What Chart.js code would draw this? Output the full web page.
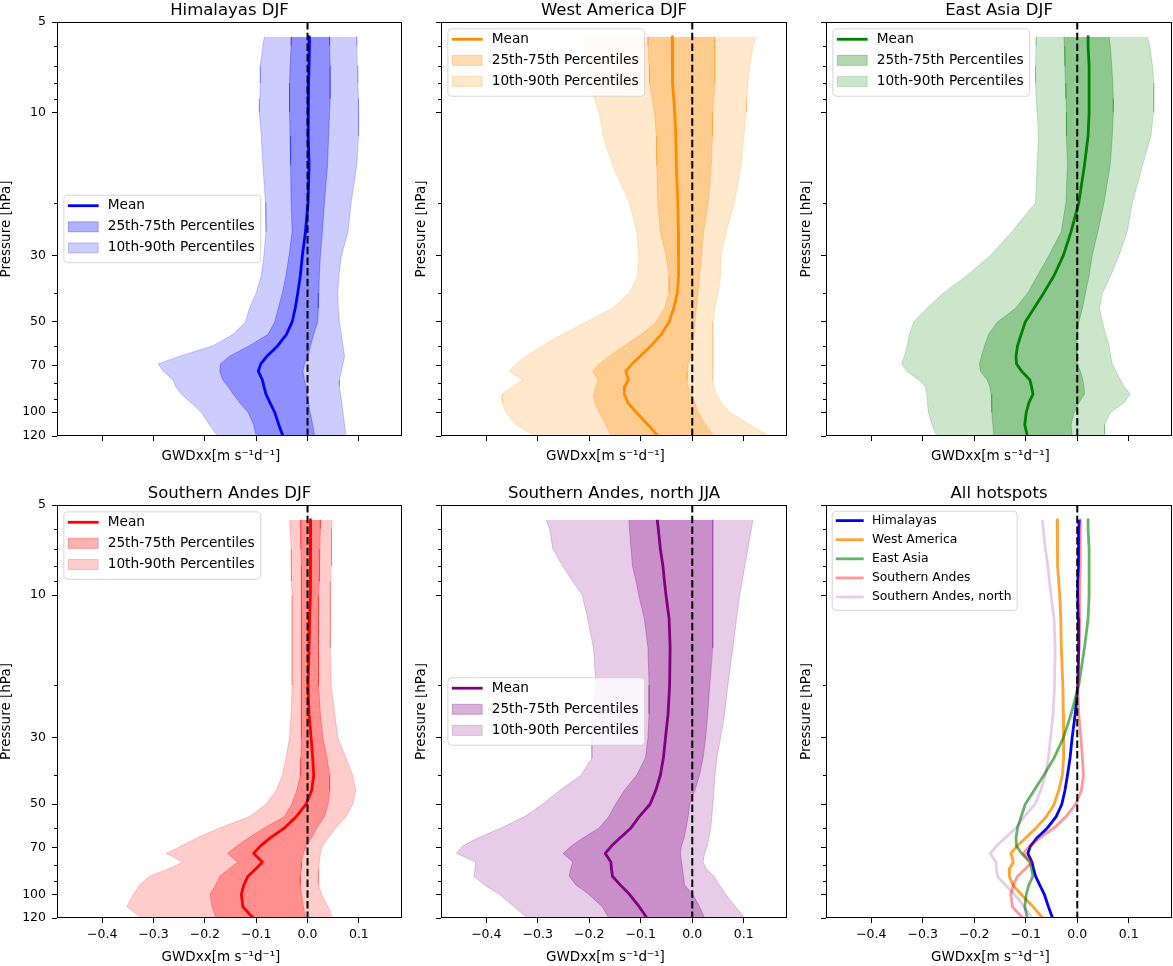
<!DOCTYPE html>
<html>
<head>
<meta charset="utf-8">
<script src="https://cdn.jsdelivr.net/npm/chart.js@4.4.1/dist/chart.umd.min.js"></script>
<style>
  body { margin: 0; background: #fff; }
  #fig { position: relative; width: 1173px; height: 966px; overflow: hidden; }
  canvas { position: absolute; }
</style>
</head>
<body>
<div id="fig">
  <canvas id="c1"></canvas>
  <canvas id="c2"></canvas>
  <canvas id="c3"></canvas>
  <canvas id="c4"></canvas>
  <canvas id="c5"></canvas>
  <canvas id="c6"></canvas>
</div>
<script>
// pressure levels [hPa], shared by every profile
const levels = [5.6, 6, 7, 8, 9, 10, 12, 15, 20, 25, 30, 35, 40, 45, 50, 55, 60, 65, 69, 73, 78, 82, 87, 93, 100, 110, 120];

// Himalayas DJF
const himMean = [0.004, 0.003, 0.003, 0.002, 0.001, 0.001, 0.002, 0.003, 0.001, -0.004, -0.010, -0.014, -0.019, -0.024, -0.030, -0.041, -0.058, -0.079, -0.091, -0.096, -0.088, -0.085, -0.081, -0.073, -0.064, -0.056, -0.048];
const himP25 = [-0.031, -0.032, -0.034, -0.035, -0.035, -0.035, -0.034, -0.033, -0.032, -0.030, -0.036, -0.042, -0.049, -0.057, -0.064, -0.077, -0.113, -0.152, -0.170, -0.171, -0.165, -0.155, -0.145, -0.132, -0.116, -0.105, -0.100];
const himP75 = [0.043, 0.043, 0.044, 0.044, 0.044, 0.043, 0.041, 0.039, 0.033, 0.029, 0.025, 0.023, 0.022, 0.021, 0.020, 0.012, 0.006, 0.001, -0.006, -0.009, -0.006, -0.003, -0.001, 0.002, 0.005, 0.010, 0.014];
const himP10 = [-0.084, -0.087, -0.092, -0.092, -0.093, -0.094, -0.090, -0.087, -0.082, -0.081, -0.085, -0.090, -0.100, -0.113, -0.121, -0.145, -0.184, -0.249, -0.291, -0.281, -0.262, -0.257, -0.246, -0.227, -0.207, -0.191, -0.175];
const himP90 = [0.095, 0.096, 0.097, 0.098, 0.099, 0.100, 0.099, 0.096, 0.085, 0.079, 0.066, 0.061, 0.059, 0.060, 0.062, 0.066, 0.069, 0.072, 0.069, 0.066, 0.062, 0.062, 0.064, 0.067, 0.069, 0.072, 0.075];

// West America DJF
const waMean = [-0.039, -0.039, -0.038, -0.038, -0.036, -0.034, -0.032, -0.031, -0.028, -0.027, -0.026, -0.027, -0.029, -0.036, -0.045, -0.060, -0.080, -0.101, -0.117, -0.129, -0.124, -0.131, -0.132, -0.125, -0.109, -0.086, -0.067];
const waP25 = [-0.086, -0.086, -0.084, -0.083, -0.078, -0.073, -0.070, -0.069, -0.067, -0.062, -0.051, -0.045, -0.045, -0.054, -0.070, -0.099, -0.132, -0.161, -0.181, -0.194, -0.183, -0.187, -0.192, -0.189, -0.181, -0.168, -0.158];
const waP75 = [0.044, 0.044, 0.044, 0.043, 0.042, 0.040, 0.039, 0.037, 0.031, 0.022, 0.018, 0.014, 0.011, 0.008, 0.005, 0.003, 0.001, -0.002, -0.008, -0.010, -0.010, -0.008, -0.002, 0.005, 0.011, 0.026, 0.042];
const waP10 = [-0.211, -0.209, -0.206, -0.200, -0.190, -0.181, -0.173, -0.155, -0.122, -0.108, -0.104, -0.106, -0.122, -0.155, -0.206, -0.252, -0.291, -0.323, -0.343, -0.356, -0.330, -0.349, -0.369, -0.369, -0.362, -0.343, -0.304];
const waP90 = [0.125, 0.118, 0.112, 0.108, 0.106, 0.105, 0.100, 0.095, 0.082, 0.066, 0.056, 0.055, 0.050, 0.044, 0.040, 0.040, 0.040, 0.040, 0.039, 0.040, 0.040, 0.042, 0.047, 0.056, 0.073, 0.112, 0.149];

// East Asia DJF
const eaMean = [0.021, 0.021, 0.023, 0.023, 0.023, 0.023, 0.021, 0.014, 0.003, -0.012, -0.027, -0.045, -0.065, -0.084, -0.101, -0.109, -0.116, -0.119, -0.118, -0.108, -0.092, -0.089, -0.086, -0.094, -0.099, -0.102, -0.097];
const eaP25 = [-0.026, -0.025, -0.024, -0.023, -0.022, -0.021, -0.021, -0.019, -0.022, -0.031, -0.055, -0.077, -0.096, -0.120, -0.155, -0.172, -0.180, -0.186, -0.190, -0.188, -0.175, -0.170, -0.167, -0.166, -0.166, -0.164, -0.162];
const eaP75 = [0.062, 0.064, 0.067, 0.069, 0.070, 0.070, 0.068, 0.064, 0.052, 0.040, 0.029, 0.023, 0.016, 0.010, 0.003, 0.000, -0.001, -0.001, 0.000, 0.006, 0.011, 0.013, 0.014, 0.003, -0.006, -0.012, -0.010];
const eaP10 = [-0.079, -0.080, -0.081, -0.081, -0.080, -0.078, -0.075, -0.078, -0.081, -0.127, -0.169, -0.214, -0.260, -0.292, -0.318, -0.326, -0.330, -0.336, -0.341, -0.331, -0.308, -0.295, -0.292, -0.291, -0.289, -0.282, -0.273];
const eaP90 = [0.136, 0.141, 0.146, 0.149, 0.149, 0.148, 0.143, 0.127, 0.107, 0.097, 0.081, 0.065, 0.049, 0.043, 0.049, 0.055, 0.062, 0.065, 0.068, 0.075, 0.084, 0.091, 0.103, 0.091, 0.065, 0.053, 0.053];

// Southern Andes DJF
const saMean = [0.006, 0.006, 0.006, 0.006, 0.005, 0.005, 0.004, 0.003, 0.001, 0.003, 0.007, 0.010, 0.012, 0.008, -0.003, -0.022, -0.045, -0.074, -0.092, -0.105, -0.088, -0.100, -0.116, -0.124, -0.129, -0.126, -0.106];
const saP25 = [-0.014, -0.013, -0.013, -0.012, -0.012, -0.012, -0.012, -0.012, -0.012, -0.012, -0.012, -0.013, -0.014, -0.021, -0.031, -0.045, -0.084, -0.116, -0.138, -0.156, -0.136, -0.152, -0.171, -0.179, -0.190, -0.186, -0.178];
const saP75 = [0.025, 0.025, 0.024, 0.023, 0.023, 0.022, 0.021, 0.021, 0.022, 0.025, 0.030, 0.038, 0.043, 0.043, 0.040, 0.033, 0.018, 0.007, -0.003, -0.008, -0.012, -0.012, -0.014, -0.014, -0.012, -0.008, -0.004];
const saP10 = [-0.035, -0.034, -0.032, -0.032, -0.031, -0.030, -0.030, -0.030, -0.030, -0.032, -0.035, -0.042, -0.049, -0.061, -0.081, -0.113, -0.171, -0.217, -0.246, -0.275, -0.243, -0.269, -0.308, -0.327, -0.339, -0.352, -0.324];
const saP90 = [0.048, 0.047, 0.047, 0.046, 0.045, 0.045, 0.044, 0.044, 0.046, 0.053, 0.059, 0.075, 0.088, 0.094, 0.088, 0.075, 0.055, 0.040, 0.029, 0.025, 0.023, 0.022, 0.021, 0.022, 0.027, 0.040, 0.049];

// Southern Andes, north JJA
const sanMean = [-0.068, -0.066, -0.062, -0.057, -0.054, -0.051, -0.045, -0.043, -0.044, -0.047, -0.052, -0.056, -0.062, -0.071, -0.082, -0.103, -0.119, -0.141, -0.157, -0.169, -0.158, -0.157, -0.155, -0.140, -0.122, -0.103, -0.088];
const sanP25 = [-0.123, -0.122, -0.119, -0.116, -0.109, -0.104, -0.093, -0.086, -0.084, -0.084, -0.086, -0.091, -0.108, -0.132, -0.149, -0.162, -0.181, -0.213, -0.235, -0.251, -0.232, -0.236, -0.239, -0.226, -0.201, -0.175, -0.162];
const sanP75 = [0.040, 0.040, 0.040, 0.040, 0.040, 0.040, 0.040, 0.039, 0.034, 0.030, 0.026, 0.021, 0.014, 0.005, -0.005, -0.008, -0.012, -0.016, -0.021, -0.023, -0.021, -0.019, -0.017, -0.015, 0.001, 0.014, 0.024];
const sanP10 = [-0.284, -0.277, -0.271, -0.252, -0.232, -0.214, -0.203, -0.192, -0.187, -0.194, -0.195, -0.195, -0.216, -0.258, -0.291, -0.326, -0.371, -0.418, -0.446, -0.458, -0.421, -0.422, -0.424, -0.404, -0.375, -0.346, -0.320];
const sanP90 = [0.118, 0.115, 0.108, 0.102, 0.097, 0.092, 0.086, 0.079, 0.069, 0.063, 0.055, 0.048, 0.044, 0.042, 0.040, 0.038, 0.036, 0.032, 0.029, 0.024, 0.021, 0.027, 0.042, 0.053, 0.065, 0.084, 0.102];

// axes
const xTicks = [-0.4, -0.3, -0.2, -0.1, 0.0, 0.1];
const yTicks = [5, 10, 30, 50, 70, 100, 120];
const yMinorTicks = [6, 7, 8, 9, 20, 40, 60, 80, 90];
const hotspotNames = ['Himalayas', 'West America', 'East Asia', 'Southern Andes', 'Southern Andes, north'];

const rgb = { blue: [0, 0, 255], darkorange: [255, 140, 0], green: [0, 128, 0], red: [255, 0, 0], purple: [128, 0, 128] };
const rgba = (c, a) => `rgba(${rgb[c].join(',')},${a})`;
const FONT = '"DejaVu Sans", sans-serif';

Chart.defaults.font.family = FONT;
Chart.defaults.color = '#000';

const pts = arr => arr.map((v, i) => ({ x: v, y: levels[i] }));

function zeroLine() {
  return { data: [{ x: 0, y: 5 }, { x: 0, y: 120 }], borderColor: '#000', borderWidth: 2, borderDash: [7.5, 3.2], fill: false };
}

// first dataset is drawn on top in Chart.js
function bandSets(c, mean, p10, p25, p75, p90) {
  return [
    zeroLine(),
    { data: pts(mean), borderColor: rgba(c, 1), borderWidth: 2.8, fill: false },
    { data: pts(p25), borderColor: rgba(c, 0.3), backgroundColor: rgba(c, 0.3), borderWidth: 1, fill: 3 },
    { data: pts(p75), borderColor: rgba(c, 0.3), borderWidth: 1, fill: false },
    { data: pts(p10), borderColor: rgba(c, 0.2), backgroundColor: rgba(c, 0.2), borderWidth: 1, fill: 5 },
    { data: pts(p90), borderColor: rgba(c, 0.2), borderWidth: 1, fill: false }
  ];
}

function bandLegend(c) {
  return [
    { type: 'line', color: rgba(c, 1), label: 'Mean' },
    { type: 'rect', color: rgba(c, 0.3), label: '25th-75th Percentiles' },
    { type: 'rect', color: rgba(c, 0.2), label: '10th-90th Percentiles' }
  ];
}

// frame, minor ticks, title
const axesDecor = {
  id: 'axesDecor',
  afterDatasetsDraw(chart) {
    const { ctx, chartArea: a } = chart;
    ctx.save();
    ctx.strokeStyle = '#000';
    ctx.lineWidth = 1;
    ctx.strokeRect(Math.round(a.left) + 0.5, Math.round(a.top) + 0.5, Math.round(a.right - a.left) - 1, Math.round(a.bottom - a.top) - 1);
    ctx.restore();
  },
  afterDraw(chart, args, o) {
    const { ctx, chartArea: a } = chart;
    const ys = chart.scales.y;
    ctx.save();
    ctx.strokeStyle = '#000';
    ctx.lineWidth = 1;
    ctx.beginPath();
    yMinorTicks.forEach(v => {
      const py = Math.round(ys.getPixelForValue(v)) + 0.5;
      ctx.moveTo(a.left - 3, py);
      ctx.lineTo(a.left, py);
    });
    ctx.stroke();
    ctx.fillStyle = '#000';
    ctx.font = '16.5px ' + FONT;
    ctx.textAlign = 'center';
    ctx.textBaseline = 'alphabetic';
    ctx.fillText(o.title, (a.left + a.right) / 2, a.top - 7.5);
    ctx.restore();
  }
};

// matplotlib-style legend box inside the axes
const boxLegend = {
  id: 'boxLegend',
  afterDraw(chart, args, o) {
    const { ctx, chartArea: a } = chart;
    const fs = o.fontSize;
    ctx.save();
    ctx.font = fs + 'px ' + FONT;
    const rowH = 1.54 * fs;
    const pad = 0.29 * fs, handle = 2.25 * fs, gap = 0.66 * fs;
    const textW = Math.max(...o.items.map(it => ctx.measureText(it.label).width));
    const w = pad + handle + gap + textW + 0.45 * fs;
    const h = o.items.length * rowH + 0.3 * fs;
    const x0 = a.left + 0.5 * fs;
    const y0 = o.loc === 'center left' ? (a.top + a.bottom) / 2 - h / 2 : a.top + 0.5 * fs;
    const r = 0.3 * fs;
    ctx.beginPath();
    ctx.moveTo(x0 + r, y0);
    ctx.arcTo(x0 + w, y0, x0 + w, y0 + h, r);
    ctx.arcTo(x0 + w, y0 + h, x0, y0 + h, r);
    ctx.arcTo(x0, y0 + h, x0, y0, r);
    ctx.arcTo(x0, y0, x0 + w, y0, r);
    ctx.closePath();
    ctx.fillStyle = 'rgba(255,255,255,0.8)';
    ctx.fill();
    ctx.strokeStyle = 'rgba(204,204,204,0.8)';
    ctx.lineWidth = 1;
    ctx.stroke();
    o.items.forEach((it, i) => {
      const cy = y0 + 0.76 * fs + i * rowH;
      const hx = x0 + pad;
      if (it.type === 'line') {
        ctx.beginPath();
        ctx.moveTo(hx, cy);
        ctx.lineTo(hx + handle, cy);
        ctx.strokeStyle = it.color;
        ctx.lineWidth = 2.8;
        ctx.stroke();
      } else {
        const rh = 0.73 * fs;
        ctx.fillStyle = it.color;
        ctx.fillRect(hx + 0.5, cy - rh / 2, handle - 1, rh);
        ctx.strokeStyle = it.color;
        ctx.lineWidth = 1;
        ctx.strokeRect(hx + 0.5, cy - rh / 2, handle - 1, rh);
      }
      ctx.fillStyle = '#000';
      ctx.textAlign = 'left';
      ctx.textBaseline = 'middle';
      ctx.fillText(it.label, hx + handle + gap, cy);
    });
    ctx.restore();
  }
};

const fmtX = v => (v < 0 ? '\u2212' : '') + Math.abs(v).toFixed(1);

function makePanel(p) {
  const cv = document.getElementById(p.id);
  cv.width = p.width;
  cv.height = p.height;
  cv.style.left = p.left + 'px';
  cv.style.top = p.top + 'px';
  cv.style.width = p.width + 'px';
  cv.style.height = p.height + 'px';
  new Chart(cv, {
    type: 'line',
    data: { datasets: p.datasets },
    plugins: [axesDecor, boxLegend],
    options: {
      responsive: false,
      animation: false,
      indexAxis: 'y',
      layout: { padding: { top: p.padTop, left: 0, right: 0, bottom: 0 } },
      elements: {
        point: { radius: 0, hoverRadius: 0 },
        line: { tension: 0, borderJoinStyle: 'round', borderCapStyle: 'butt' }
      },
      events: [],
      plugins: {
        legend: { display: false },
        tooltip: { enabled: false },
        axesDecor: { title: p.title },
        boxLegend: { loc: p.loc, fontSize: p.legendSize, items: p.legend }
      },
      scales: {
        x: {
          type: 'linear',
          position: 'bottom',
          min: -0.488,
          max: 0.184,
          afterBuildTicks: s => { s.ticks = xTicks.map(v => ({ value: v })); },
          afterFit: s => { s.height = p.xh; s.paddingLeft = 0; s.paddingRight = 0; },
          grid: { display: true, drawOnChartArea: false, drawTicks: true, tickLength: 5, color: '#000', lineWidth: 1 },
          border: { display: false },
          ticks: { font: { size: 12.5 }, padding: 4, maxRotation: 0, autoSkip: false, callback: v => p.xLabels ? fmtX(v) : '' },
          title: { display: true, text: 'GWDxx[m s\u207B\u00B9d\u207B\u00B9]    ', font: { size: 13.5, lineHeight: 1 }, padding: 0 }
        },
        y: {
          type: 'logarithmic',
          position: 'left',
          reverse: true,
          min: 5,
          max: 120,
          bounds: 'data',
          afterBuildTicks: s => { s.ticks = yTicks.map(v => ({ value: v })); },
          afterFit: s => { s.width = p.yw; s.paddingTop = 0; s.paddingBottom = 0; },
          grid: { display: true, drawOnChartArea: false, drawTicks: true, tickLength: 5, color: '#000', lineWidth: 1 },
          border: { display: false },
          ticks: { font: { size: 12.5 }, padding: 6, autoSkip: false, callback: v => p.yLabels ? String(v) : '' },
          title: { display: true, text: 'Pressure [hPa]', font: { size: 13.5, lineHeight: 1 }, padding: 0 }
        }
      }
    }
  });
}

const topRow = { top: 0, height: 463, padTop: 22, xh: 27, xLabels: false };
const botRow = { top: 480, height: 484, padTop: 25, xh: 46, xLabels: true };
const col1 = { left: 0, width: 402, yw: 57, yLabels: true };
const col2 = { left: 415, width: 372, yw: 26, yLabels: false };
const col3 = { left: 800, width: 372, yw: 26, yLabels: false };

makePanel({ id: 'c1', ...topRow, ...col1, title: 'Himalayas DJF', loc: 'center left', legendSize: 13.7,
  datasets: bandSets('blue', himMean, himP10, himP25, himP75, himP90), legend: bandLegend('blue') });
makePanel({ id: 'c2', ...topRow, ...col2, title: 'West America DJF', loc: 'upper left', legendSize: 13.7,
  datasets: bandSets('darkorange', waMean, waP10, waP25, waP75, waP90), legend: bandLegend('darkorange') });
makePanel({ id: 'c3', ...topRow, ...col3, title: 'East Asia DJF', loc: 'upper left', legendSize: 13.7,
  datasets: bandSets('green', eaMean, eaP10, eaP25, eaP75, eaP90), legend: bandLegend('green') });
makePanel({ id: 'c4', ...botRow, ...col1, title: 'Southern Andes DJF', loc: 'upper left', legendSize: 13.7,
  datasets: bandSets('red', saMean, saP10, saP25, saP75, saP90), legend: bandLegend('red') });
makePanel({ id: 'c5', ...botRow, ...col2, title: 'Southern Andes, north JJA', loc: 'center left', legendSize: 13.7,
  datasets: bandSets('purple', sanMean, sanP10, sanP25, sanP75, sanP90), legend: bandLegend('purple') });

// all hotspots: means with fading alpha, Himalayas drawn first (bottom)
const hotColors = ['blue', 'darkorange', 'green', 'red', 'purple'];
const hotAlpha = [1, 0.8, 0.6, 0.4, 0.2];
const hotMeans = [himMean, waMean, eaMean, saMean, sanMean];
const hotSets = hotMeans.map((m, i) => ({ data: pts(m), borderColor: rgba(hotColors[i], hotAlpha[i]), borderWidth: 2.8, fill: false })).reverse();
makePanel({ id: 'c6', ...botRow, ...col3, title: 'All hotspots', loc: 'upper left', legendSize: 12.4,
  datasets: [zeroLine(), ...hotSets],
  legend: hotspotNames.map((n, i) => ({ type: 'line', color: rgba(hotColors[i], hotAlpha[i]), label: n })) });
</script>
</body>
</html>
